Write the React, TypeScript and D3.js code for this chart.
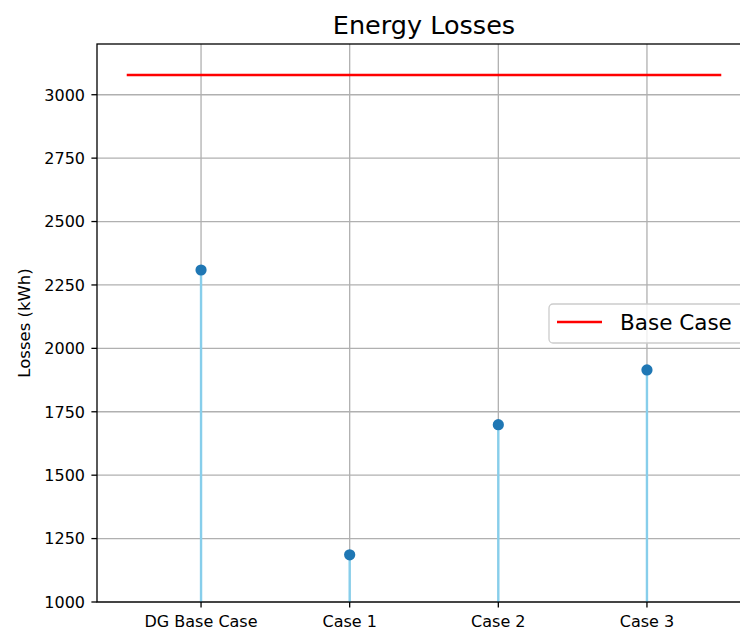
import React from "react";
import * as d3 from "d3";

const categories = ["DG Base Case", "Case 1", "Case 2", "Case 3"];
const losses = [2309, 1186, 1699, 1915];
const baseCase = 3078;
const yTicks = [1000, 1250, 1500, 1750, 2000, 2250, 2500, 2750, 3000];

const W = 740;
const H = 630;
const left = 97;
const right = 751;
const top = 44;
const bottom = 602;
const font = "DejaVu Sans, sans-serif";

export default function App() {
  const x = d3.scaleLinear().domain([-0.7, 3.7]).range([left, right]);
  const y = d3.scaleLinear().domain([1000, 3200]).range([bottom, top]);
  const grid = "#b0b0b0";

  return (
    <svg
      width={W}
      height={H}
      style={{ position: "absolute", left: 0, top: 0, background: "#fff" }}
      fontFamily={font}
    >
      <defs>
        <clipPath id="plot">
          <rect x={left} y={top} width={right - left} height={bottom - top} />
        </clipPath>
      </defs>
      <rect x={0} y={0} width={W} height={H} fill="#fff" />
      {/* grid */}
      <g stroke={grid} strokeWidth={1.3}>
        {yTicks.map((t) => (
          <line key={"gy" + t} x1={left} x2={right} y1={y(t)} y2={y(t)} />
        ))}
        {categories.map((c, i) => (
          <line key={"gx" + c} x1={x(i)} x2={x(i)} y1={top} y2={bottom} />
        ))}
      </g>
      {/* stems */}
      <g clipPath="url(#plot)">
        {losses.map((v, i) => (
          <line
            key={"s" + i}
            x1={x(i)}
            x2={x(i)}
            y1={y(v)}
            y2={bottom + 10}
            stroke="#87ceeb"
            strokeWidth={2.4}
          />
        ))}
        {losses.map((v, i) => (
          <circle key={"m" + i} cx={x(i)} cy={y(v)} r={5.6} fill="#1f77b4" />
        ))}
        <line
          x1={x(-0.5)}
          x2={x(3.5)}
          y1={y(baseCase)}
          y2={y(baseCase)}
          stroke="#ff0000"
          strokeWidth={2.4}
        />
      </g>
      {/* spines */}
      <rect
        x={left}
        y={top}
        width={right - left}
        height={bottom - top}
        fill="none"
        stroke="#000"
        strokeWidth={1.3}
      />
      {/* y ticks */}
      {yTicks.map((t) => (
        <g key={"yt" + t}>
          <line x1={left - 5.6} x2={left} y1={y(t)} y2={y(t)} stroke="#000" strokeWidth={1.3} />
          <text x={left - 12} y={y(t) + 5.8} textAnchor="end" fontSize={16} fill="#000">
            {t}
          </text>
        </g>
      ))}
      {/* x ticks */}
      {categories.map((c, i) => (
        <g key={"xt" + c}>
          <line x1={x(i)} x2={x(i)} y1={bottom} y2={bottom + 5.6} stroke="#000" strokeWidth={1.3} />
          <text x={x(i)} y={627} textAnchor="middle" fontSize={16} fill="#000">
            {c}
          </text>
        </g>
      ))}
      {/* y label */}
      <text
        transform={`translate(30,${(top + bottom) / 2}) rotate(-90)`}
        textAnchor="middle"
        fontSize={16.5}
        fill="#000"
      >
        Losses (kWh)
      </text>
      {/* title */}
      <text x={(left + right) / 2} y={34} textAnchor="middle" fontSize={25.5} fill="#000">
        Energy Losses
      </text>
      {/* legend */}
      <g>
        <rect
          x={549}
          y={304}
          width={200}
          height={39}
          rx={4}
          fill="#fff"
          fillOpacity={0.8}
          stroke="#cccccc"
          strokeWidth={1.3}
        />
        <line x1={557} x2={602} y1={322} y2={322} stroke="#ff0000" strokeWidth={2.4} />
        <text x={620} y={330} fontSize={21.5} fill="#000">
          Base Case
        </text>
      </g>
    </svg>
  );
}
